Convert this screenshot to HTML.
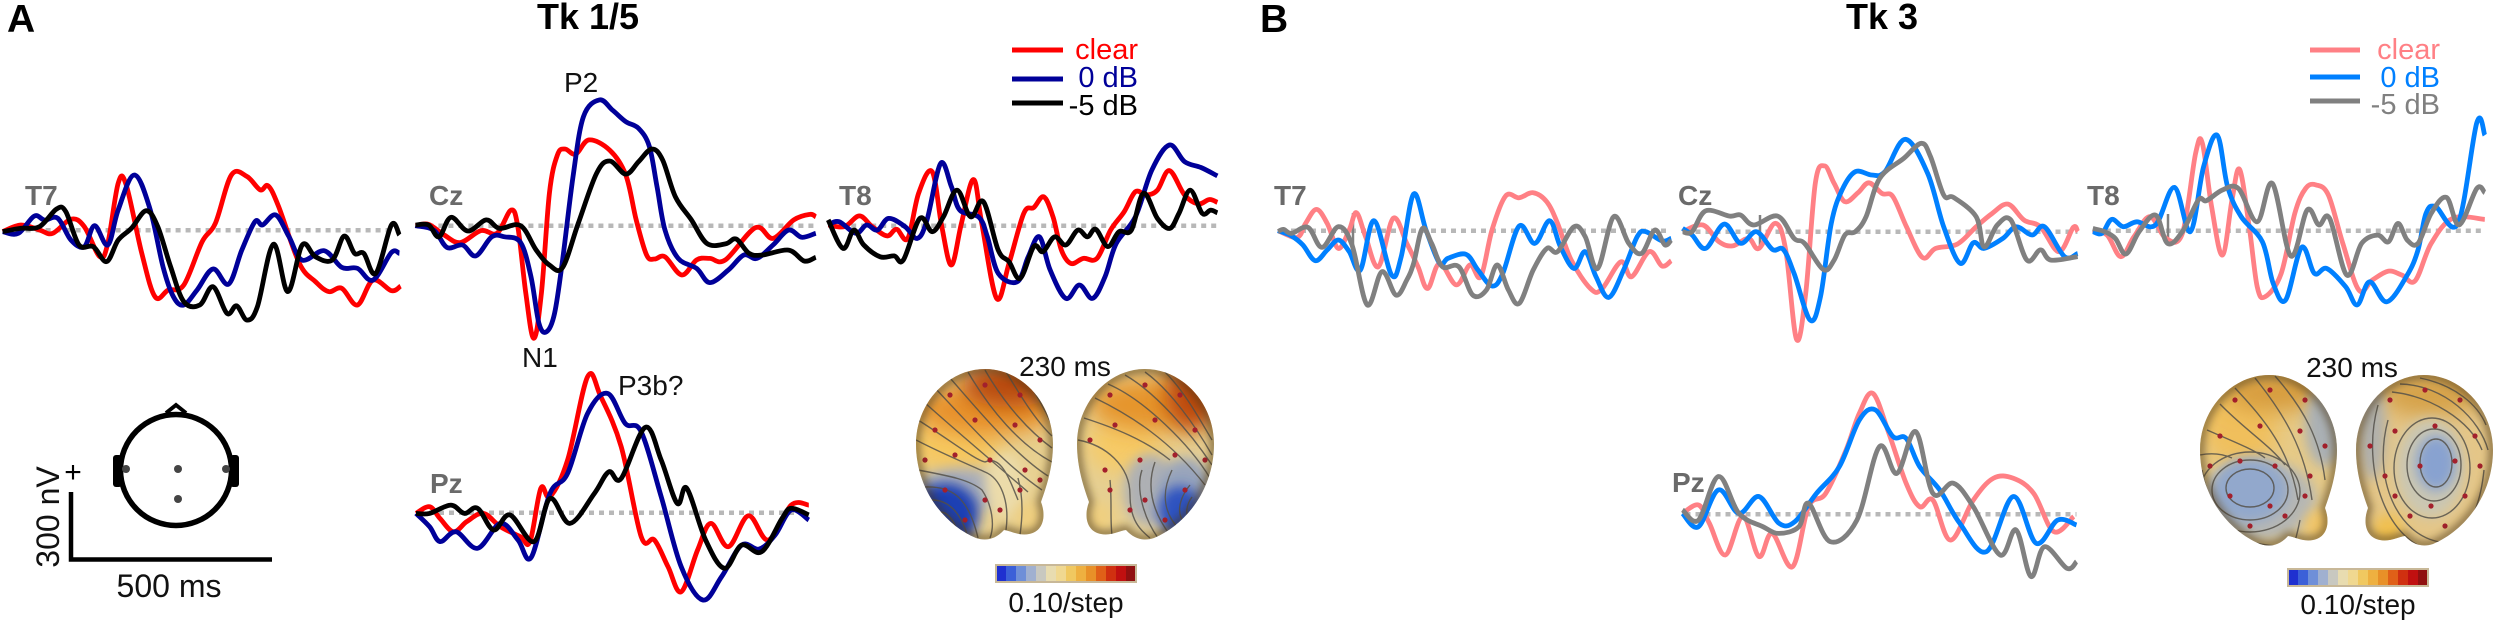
<!DOCTYPE html>
<html>
<head>
<meta charset="utf-8">
<title>ERP traces Tk 1/5 and Tk 3</title>
<style>
html,body{margin:0;padding:0;background:#fff;}
svg{display:block;font-family:"Liberation Sans",sans-serif;}
.lab{font-size:28px;font-weight:bold;fill:#6a6a6a;}
.ann{font-size:28px;fill:#111;}
.leg{font-size:29px;}
.ttl{font-size:36px;font-weight:bold;fill:#000;}
.pan{font-size:39px;font-weight:bold;fill:#000;}
.ctr{fill:none;stroke:#55524a;stroke-width:1.4;opacity:.85;}
.dot{fill:#a3202c;}
.shade{fill:none;stroke:#4a3415;stroke-width:9;opacity:.55;}
</style>
</head>
<body>
<svg id="chart" width="2500" height="627" viewBox="0 0 2500 627" xmlns="http://www.w3.org/2000/svg">
<defs>
<path id="brainShape" d="M985 369C1022 369 1053 403 1053 444C1053 468 1046 488 1041 502C1047 518 1042 532 1029 534C1019 536 1011 531 1004 530C995 540 985 541 976 538C945 525 916 490 916 444C916 403 948 369 985 369Z"/>
<clipPath id="clipAL"><use href="#brainShape"/></clipPath>
<clipPath id="clipAR"><use href="#brainShape" transform="translate(2130,0) scale(-1,1)"/></clipPath>
<clipPath id="clipBL"><use href="#brainShape" transform="translate(1284,6)"/></clipPath>
<clipPath id="clipBR"><use href="#brainShape" transform="translate(3409,6) scale(-1,1)"/></clipPath>
<filter id="soft" x="-50%" y="-50%" width="200%" height="200%"><feGaussianBlur stdDeviation="11"/></filter>
<filter id="softer" x="-50%" y="-50%" width="200%" height="200%"><feGaussianBlur stdDeviation="6"/></filter>
<filter id="shadeBlur" x="-20%" y="-20%" width="140%" height="140%"><feGaussianBlur stdDeviation="4"/></filter>
</defs>

<text class="pan" x="7" y="32">A</text>
<text class="pan" x="1260" y="32">B</text>
<text class="ttl" x="588" y="29" text-anchor="middle">Tk 1/5</text>
<text class="ttl" x="1882" y="29" text-anchor="middle">Tk 3</text>

<g>
<line x1="1012" x2="1063" y1="50" y2="50" stroke="#ff0000" stroke-width="5"/>
<line x1="1012" x2="1063" y1="79" y2="79" stroke="#000099" stroke-width="5"/>
<line x1="1012" x2="1063" y1="103" y2="103" stroke="#000" stroke-width="5"/>
<text class="leg" x="1138" y="59" text-anchor="end" fill="#ff0000">clear</text>
<text class="leg" x="1138" y="87" text-anchor="end" fill="#000099">0 dB</text>
<text class="leg" x="1138" y="115" text-anchor="end" fill="#000">-5 dB</text>
</g>
<g>
<line x1="2310" x2="2360" y1="50" y2="50" stroke="#ff8085" stroke-width="5"/>
<line x1="2310" x2="2360" y1="77" y2="77" stroke="#0080ff" stroke-width="5"/>
<line x1="2310" x2="2360" y1="101" y2="101" stroke="#808080" stroke-width="5"/>
<text class="leg" x="2440" y="59" text-anchor="end" fill="#ff8085">clear</text>
<text class="leg" x="2440" y="87" text-anchor="end" fill="#0080ff">0 dB</text>
<text class="leg" x="2440" y="114" text-anchor="end" fill="#808080">-5 dB</text>
</g>

<g id="baselines"></g>

<text class="lab" x="25" y="205">T7</text>
<text class="lab" x="429" y="205">Cz</text>
<text class="lab" x="839" y="205">T8</text>
<text class="lab" x="430" y="493">Pz</text>
<text class="lab" x="1274" y="205">T7</text>
<text class="lab" x="1678" y="205">Cz</text>
<text class="lab" x="2087" y="205">T8</text>
<text class="lab" x="1672" y="492">Pz</text>

<line x1="1353" x2="1353" y1="213" y2="245" stroke="#808080" stroke-width="2.5"/>
<line x1="1760" x2="1760" y1="215" y2="247" stroke="#808080" stroke-width="2.5"/>
<line x1="2168" x2="2168" y1="214" y2="245" stroke="#808080" stroke-width="2.5"/>

<g id="traces"></g>

<text class="ann" x="564" y="92">P2</text>
<text class="ann" x="522" y="367">N1</text>
<text class="ann" x="618" y="395">P3b?</text>

<g>
<path d="M166 413L176 405L186 413" fill="#fff" stroke="#000" stroke-width="4"/>
<circle cx="176" cy="470" r="55.5" fill="none" stroke="#000" stroke-width="5.5"/>
<rect x="113" y="455" width="9" height="32" rx="3" fill="#000"/>
<rect x="230" y="455" width="9" height="32" rx="3" fill="#000"/>
<circle cx="126" cy="469" r="4" fill="#444"/>
<circle cx="178" cy="469" r="4" fill="#444"/>
<circle cx="226" cy="469" r="4" fill="#444"/>
<circle cx="178" cy="499" r="4" fill="#444"/>
</g>
<g>
<path d="M71 492V559.500H272" fill="none" stroke="#000" stroke-width="4.500"/>
<text x="73" y="482" font-size="30" text-anchor="middle" fill="#000">+</text>
<text transform="translate(59,517) rotate(-90)" font-size="32" text-anchor="middle" fill="#111">300 nV</text>
<text x="169" y="597" font-size="32" text-anchor="middle" fill="#111">500 ms</text>
</g>

<!-- Topomap A left -->
<g>
<g clip-path="url(#clipAL)">
<rect x="900" y="360" width="170" height="190" fill="#e8d090"/>
<ellipse cx="955" cy="445" rx="45" ry="30" fill="#f6c860" filter="url(#soft)"/>
<ellipse cx="985" cy="410" rx="70" ry="26" fill="#e8922a" filter="url(#soft)"/>
<ellipse cx="1010" cy="385" rx="48" ry="22" fill="#b8480a" filter="url(#soft)"/>
<ellipse cx="960" cy="490" rx="45" ry="22" fill="#a8adba" filter="url(#softer)"/>
<ellipse cx="1005" cy="485" rx="20" ry="32" fill="#ecdcaa" filter="url(#softer)"/>
<ellipse cx="945" cy="515" rx="34" ry="32" fill="#1f40b4" filter="url(#softer)"/>
<ellipse cx="1030" cy="518" rx="14" ry="16" fill="#efcf80" filter="url(#softer)"/>
<g class="ctr">
<path d="M1025 378C1035 392 1045 410 1052 425"/><path d="M1005 370C1020 395 1035 420 1052 436"/><path d="M985 370C1005 405 1030 432 1052 448"/><path d="M968 372C990 410 1020 445 1052 462"/><path d="M950 378C980 412 1015 455 1048 476"/><path d="M935 388C965 420 1005 465 1042 490"/><path d="M924 402C955 430 985 455 1028 492"/><path d="M918 420C950 440 975 460 985 462C1000 455 1008 475 1018 500"/><path d="M916 440C945 455 970 465 985 472C1000 478 1010 500 1006 530"/><path d="M918 470C950 476 970 480 982 490C992 505 995 525 990 538"/><path d="M925 487C950 486 968 495 978 538"/><path d="M932 500C950 500 962 515 968 538"/><path d="M940 512C950 512 956 525 960 538"/><path d="M948 522C953 522 955 530 956 538"/><path d="M1018 478C1024 500 1022 520 1020 535"/>
</g>
<g class="dot"><circle cx="950" cy="395" r="2.600"/><circle cx="985" cy="385" r="2.600"/><circle cx="1020" cy="395" r="2.600"/><circle cx="935" cy="430" r="2.600"/><circle cx="975" cy="420" r="2.600"/><circle cx="1015" cy="425" r="2.600"/><circle cx="1040" cy="440" r="2.600"/><circle cx="925" cy="460" r="2.600"/><circle cx="955" cy="455" r="2.600"/><circle cx="990" cy="460" r="2.600"/><circle cx="1025" cy="470" r="2.600"/><circle cx="945" cy="490" r="2.600"/><circle cx="985" cy="500" r="2.600"/><circle cx="1020" cy="490" r="2.600"/><circle cx="965" cy="520" r="2.600"/><circle cx="1000" cy="510" r="2.600"/><circle cx="1040" cy="480" r="2.600"/></g>
<use href="#brainShape" class="shade" filter="url(#shadeBlur)"/>
</g>
</g>
<!-- Topomap A right -->
<g>
<g clip-path="url(#clipAR)">
<rect x="1060" y="360" width="170" height="190" fill="#e6cf92"/>
<ellipse cx="1125" cy="445" rx="38" ry="28" fill="#f6ca66" filter="url(#soft)"/>
<ellipse cx="1150" cy="405" rx="60" ry="26" fill="#e6942c" filter="url(#soft)"/>
<ellipse cx="1192" cy="395" rx="26" ry="36" fill="#bc4a0a" filter="url(#soft)"/>
<ellipse cx="1150" cy="490" rx="26" ry="36" fill="#aeb0b4" filter="url(#softer)"/>
<ellipse cx="1185" cy="488" rx="26" ry="30" fill="#98a4bc" filter="url(#softer)"/>
<ellipse cx="1180" cy="512" rx="22" ry="26" fill="#2f52c0" filter="url(#softer)"/>
<ellipse cx="1100" cy="518" rx="14" ry="16" fill="#efcf80" filter="url(#softer)"/>
<g class="ctr">
<path d="M1165 372C1185 392 1200 420 1212 440"/><path d="M1145 372C1170 390 1195 425 1212 455"/><path d="M1125 375C1155 392 1190 432 1212 465"/><path d="M1108 384C1145 400 1190 445 1210 478"/><path d="M1095 398C1130 415 1170 440 1205 485"/><path d="M1084 418C1115 428 1145 440 1170 460"/><path d="M1078 440C1105 445 1130 465 1130 495C1130 520 1140 530 1150 538"/><path d="M1142 470C1135 490 1145 520 1158 538"/><path d="M1155 462C1145 490 1155 515 1170 535"/><path d="M1172 470C1160 495 1165 515 1180 530"/><path d="M1190 485C1178 500 1176 515 1186 525"/><path d="M1192 497C1186 505 1185 515 1190 520"/><path d="M1110 480C1112 500 1110 520 1112 535"/>
</g>
<g class="dot"><circle cx="1110" cy="395" r="2.600"/><circle cx="1145" cy="385" r="2.600"/><circle cx="1180" cy="395" r="2.600"/><circle cx="1090" cy="440" r="2.600"/><circle cx="1115" cy="425" r="2.600"/><circle cx="1155" cy="420" r="2.600"/><circle cx="1195" cy="430" r="2.600"/><circle cx="1105" cy="470" r="2.600"/><circle cx="1140" cy="460" r="2.600"/><circle cx="1175" cy="455" r="2.600"/><circle cx="1205" cy="460" r="2.600"/><circle cx="1110" cy="490" r="2.600"/><circle cx="1145" cy="500" r="2.600"/><circle cx="1185" cy="490" r="2.600"/><circle cx="1130" cy="510" r="2.600"/><circle cx="1165" cy="520" r="2.600"/></g>
<use href="#brainShape" class="shade" filter="url(#shadeBlur)" transform="translate(2130,0) scale(-1,1)"/>
</g>
</g>
<!-- Topomap B left -->
<g>
<g clip-path="url(#clipBL)">
<rect x="2190" y="365" width="170" height="195" fill="#e6ca88"/>
<ellipse cx="2240" cy="425" rx="38" ry="42" fill="#f0bf5c" filter="url(#soft)"/>
<ellipse cx="2275" cy="392" rx="50" ry="20" fill="#d79c3c" filter="url(#soft)"/>
<ellipse cx="2325" cy="425" rx="20" ry="42" fill="#aab0b4" filter="url(#softer)"/>
<ellipse cx="2260" cy="500" rx="56" ry="40" fill="#b6b7b4" filter="url(#softer)"/>
<ellipse cx="2250" cy="490" rx="38" ry="32" fill="#92a8cc" filter="url(#softer)"/>
<ellipse cx="2320" cy="525" rx="15" ry="16" fill="#f0c568" filter="url(#softer)"/>
<g class="ctr">
<path d="M2275 376C2305 410 2320 440 2325 480"/><path d="M2255 378C2285 415 2305 450 2312 500"/><path d="M2235 388C2265 420 2290 450 2298 500"/><path d="M2220 404C2245 430 2270 445 2285 465"/><path d="M2207 430C2230 440 2255 450 2265 458"/><path d="M2200 455C2215 452 2225 455 2232 458"/><ellipse cx="2250" cy="492" rx="50" ry="40"/><ellipse cx="2250" cy="490" rx="38" ry="30"/><ellipse cx="2250" cy="488" rx="24" ry="19"/><path d="M2204 490C2215 530 2245 548 2290 546"/><path d="M2202 470C2212 525 2240 552 2275 552"/><path d="M2300 520C2298 530 2296 540 2292 550"/>
</g>
<g class="dot"><circle cx="2235" cy="400" r="2.600"/><circle cx="2270" cy="390" r="2.600"/><circle cx="2305" cy="400" r="2.600"/><circle cx="2220" cy="436" r="2.600"/><circle cx="2260" cy="426" r="2.600"/><circle cx="2300" cy="431" r="2.600"/><circle cx="2325" cy="446" r="2.600"/><circle cx="2210" cy="466" r="2.600"/><circle cx="2240" cy="461" r="2.600"/><circle cx="2275" cy="466" r="2.600"/><circle cx="2310" cy="476" r="2.600"/><circle cx="2230" cy="496" r="2.600"/><circle cx="2270" cy="506" r="2.600"/><circle cx="2305" cy="496" r="2.600"/><circle cx="2250" cy="526" r="2.600"/><circle cx="2285" cy="516" r="2.600"/></g>
<use href="#brainShape" class="shade" filter="url(#shadeBlur)" transform="translate(1284,6)"/>
</g>
</g>
<!-- Topomap B right -->
<g>
<g clip-path="url(#clipBR)">
<rect x="2345" y="365" width="160" height="195" fill="#e4c688"/>
<ellipse cx="2430" cy="395" rx="50" ry="22" fill="#d6a24a" filter="url(#soft)"/>
<ellipse cx="2372" cy="430" rx="14" ry="50" fill="#b0b0ac" filter="url(#softer)"/>
<ellipse cx="2430" cy="468" rx="34" ry="50" fill="#cbc7b2" filter="url(#softer)"/>
<ellipse cx="2436" cy="463" rx="20" ry="28" fill="#88a2d0" filter="url(#softer)"/>
<ellipse cx="2388" cy="530" rx="15" ry="16" fill="#f0c050" filter="url(#softer)"/>
<g class="ctr">
<ellipse cx="2436" cy="463" rx="16" ry="24"/><ellipse cx="2434" cy="465" rx="27" ry="36"/><ellipse cx="2432" cy="468" rx="38" ry="50"/><path d="M2388 420C2372 480 2398 535 2440 542C2465 542 2480 510 2484 470"/><path d="M2378 405C2360 470 2388 548 2440 552"/><path d="M2400 384C2445 385 2480 420 2488 450"/><path d="M2420 378C2455 385 2478 405 2486 425"/><path d="M2392 392C2430 396 2470 420 2482 450"/>
</g>
<g class="dot"><circle cx="2390" cy="400" r="2.600"/><circle cx="2425" cy="390" r="2.600"/><circle cx="2460" cy="400" r="2.600"/><circle cx="2370" cy="446" r="2.600"/><circle cx="2395" cy="431" r="2.600"/><circle cx="2435" cy="426" r="2.600"/><circle cx="2475" cy="436" r="2.600"/><circle cx="2385" cy="476" r="2.600"/><circle cx="2420" cy="466" r="2.600"/><circle cx="2455" cy="461" r="2.600"/><circle cx="2480" cy="466" r="2.600"/><circle cx="2395" cy="496" r="2.600"/><circle cx="2431" cy="506" r="2.600"/><circle cx="2465" cy="496" r="2.600"/><circle cx="2410" cy="516" r="2.600"/><circle cx="2445" cy="526" r="2.600"/></g>
<use href="#brainShape" class="shade" filter="url(#shadeBlur)" transform="translate(3409,6) scale(-1,1)"/>
</g>
</g>

<g id="cbarA"></g>
<g id="cbarB"></g>
<text class="ann" x="1065" y="376" text-anchor="middle">230 ms</text>
<text class="ann" x="2352" y="377" text-anchor="middle">230 ms</text>
<text class="ann" x="1066" y="612" text-anchor="middle">0.10/step</text>
<text class="ann" x="2358" y="614" text-anchor="middle">0.10/step</text>
</svg>

<script>
// Time in ms from trace start; amplitude in nV.
const aT7ClearT=[0,46,92,125,171,204,243,263,289,309,348,381,414,453,499,532,572,611,644,664,690,742,782,815,848,887,926,972,995];
const aT7ClearV=[-6,24,2,-14,50,17,-119,-59,212,204,-104,-299,-269,-246,-51,32,249,242,182,200,107,-149,-231,-276,-261,-336,-224,-272,-251];
const aT7ZeroT=[0,39,79,105,138,171,204,230,263,289,329,368,401,427,453,486,526,565,598,631,650,683,716,749,804,848,887,926,972,992];
const aT7ZeroV=[-6,-14,64,46,54,-44,-74,21,-66,92,249,99,-164,-299,-336,-269,-174,-242,-89,39,24,69,-29,-134,-92,-167,-171,-224,-100,-104];
const aT7MinusT=[0,46,92,135,158,191,227,260,289,322,359,388,420,453,493,526,561,585,611,637,677,713,749,782,824,854,880,903,933,972,992];
const aT7MinusV=[-6,9,16,96,84,-66,-74,-141,-44,9,88,16,-164,-321,-336,-254,-374,-340,-404,-344,-63,-276,-66,-119,-134,-26,-104,-104,-194,24,-21];

const aCzClearT=[0,33,72,112,164,204,239,256,276,296,315,335,355,374,401,434,486,526,552,578,598,624,666,703,736,775,850,894,946,986,1001];
const aCzClearV=[0,6,-42,-76,-22,-34,70,-4,-304,-507,-304,146,318,345,322,386,340,228,26,-132,-150,-140,-222,-154,-147,-154,-9,-57,26,51,40];
const aCzZeroT=[0,46,79,118,151,191,223,263,289,309,328,348,368,394,420,460,493,526,558,585,604,624,657,703,736,782,821,854,894,933,966,1001];
const aCzZeroV=[0,-20,-98,-87,-136,-50,-50,-76,-230,-440,-477,-394,-154,220,490,566,520,468,438,356,176,-20,-147,-192,-256,-200,-132,-147,-87,-20,-52,-34];
const aCzMinusT=[0,33,59,89,131,177,210,263,302,335,368,407,453,486,526,558,591,618,650,690,729,775,802,834,867,933,972,1001];
const aCzMinusV=[3,3,-50,38,-24,26,-12,0,-110,-177,-188,10,236,291,232,288,345,296,130,26,-80,-82,-60,-124,-132,-110,-159,-142];

const aT8ClearT=[0,41,78,110,147,171,199,226,260,284,308,333,363,384,421,452,489,514,539,562,583,607,638,672,706,740,768,795,823,853,891,925,953,973];
const aT8ClearV=[3,-4,44,-4,-46,-16,-57,146,243,-4,-177,10,208,10,-327,-170,56,82,130,40,-110,-170,-147,-147,-20,63,153,138,160,248,138,98,118,105];
const aT8ZeroT=[0,27,69,96,123,151,192,223,247,281,308,329,377,398,425,473,500,528,555,594,628,661,692,720,768,809,853,891,932,973];
const aT8ZeroV=[3,18,-34,3,-20,33,-4,-57,26,280,176,70,38,-50,-214,-252,-140,-50,-200,-327,-267,-327,-230,-80,40,250,363,288,262,224];
const aT8MinusT=[0,37,64,89,130,165,188,229,260,288,322,356,388,425,452,480,514,537,566,594,624,648,669,699,727,758,788,823,854,877,905,935,956,973];
const aT8MinusV=[26,-102,-20,-87,-140,-136,-154,33,-27,40,160,40,108,-110,-162,-237,-94,-117,-50,-87,-20,-50,-16,-94,-27,-20,146,33,-12,56,160,56,70,58];

const aPzClearT=[0,34,60,94,127,168,211,261,285,312,335,379,429,462,513,563,596,630,663,704,737,781,831,881,938,982];
const aPzClearV=[-3,27,-26,-86,-40,-3,-63,-108,-130,110,72,237,612,522,297,-108,-123,-243,-356,-168,-48,-153,-14,-123,34,34];
const aPzZeroT=[0,34,60,100,154,211,255,288,335,379,429,479,523,563,613,663,717,764,814,858,898,938,982];
const aPzZeroV=[-3,-63,-130,-86,-160,-48,-123,-201,87,177,447,537,402,364,72,-243,-393,-288,-146,-164,-100,12,-33];
const aPzMinusT=[0,34,87,121,154,194,235,295,335,385,446,482,513,573,613,653,677,724,771,814,864,915,938,982];
const aPzMinusV=[-3,-3,34,-3,20,-78,-10,-130,64,-48,87,184,154,384,237,42,110,-123,-250,-146,-176,-26,20,-10];

const bT7ClearT=[0,48,69,96,123,151,178,196,219,251,288,322,350,374,404,446,480,507,535,569,603,638,672,699,733,781,809,857,884,928,960,983];
const bT7ClearV=[0,-30,33,96,33,-80,3,81,-27,-162,56,-57,-162,-260,-147,-244,-154,-207,3,156,148,171,130,33,-132,-260,-264,-140,-207,-94,-159,-135];
const bT7ZeroT=[0,34,62,93,123,151,178,206,240,284,308,339,370,404,425,470,500,535,562,603,642,679,706,740,768,795,827,864,898,919,960,983];
const bT7ZeroV=[0,-24,-64,-135,-87,-42,-94,-177,45,-200,-117,165,3,-147,-124,-106,-177,-249,-192,21,-57,45,-72,-170,-94,-207,-300,-177,-27,-4,-46,-34];
const bT7MinusT=[0,14,34,75,110,151,185,223,260,295,322,339,361,384,411,452,487,521,548,576,603,638,672,699,740,768,799,839,877,909,942,967,983];
const bT7MinusV=[-4,6,-12,15,-75,18,-64,-334,-184,-290,-222,-147,10,-57,-162,-162,-290,-267,-154,-267,-327,-177,-80,-94,18,-27,-170,63,-57,-102,3,-64,-42];

const bCzClearT=[0,51,91,125,165,191,232,258,285,308,332,355,379,406,439,466,499,526,560,600,633,687,734,774,814,854,895,941,977,988];
const bCzClearV=[0,30,-45,-64,-30,-75,38,-82,-484,-278,218,296,218,135,176,220,172,158,22,-116,-75,-56,22,82,124,52,22,-90,20,0];
const bCzZeroT=[0,24,58,104,145,185,225,252,279,319,345,372,399,432,473,506,557,613,653,694,727,754,801,834,874,905,955,988];
const bCzZeroV=[15,-15,-75,34,-52,0,-80,-80,-188,-398,-292,38,188,270,255,270,416,262,22,-142,-50,-75,-30,22,-15,22,-112,-98];
const bCzMinusT=[0,24,58,118,145,178,238,279,305,352,379,406,432,459,493,553,597,620,653,678,734,754,787,821,861,895,921,988];
const bCzMinusV=[0,0,94,70,75,30,70,-30,-52,-170,-128,-15,0,68,240,330,398,338,165,154,68,-68,30,52,-128,-82,-128,-112];

const bT8ClearT=[0,36,70,103,143,183,224,257,274,297,324,348,367,391,411,431,471,505,532,558,589,625,665,699,739,773,806,846,900,980];
const bT8ClearV=[3,-20,-117,-27,63,-34,-12,348,393,108,-110,138,276,18,-252,-297,-192,78,190,206,160,-57,-267,-222,-182,-200,-225,-57,56,51];
const bT8ZeroT=[0,23,47,76,110,157,204,244,277,311,337,371,424,451,482,522,554,585,632,661,692,735,786,813,833,857,913,960,980];
const bT8ZeroV=[-4,-12,51,18,40,26,195,-4,288,430,198,63,-50,-237,-312,-75,-192,-170,-252,-334,-230,-320,-200,-87,78,108,33,486,430];
const bT8MinusT=[0,29,56,83,116,157,187,224,264,284,324,364,411,449,495,536,565,592,635,672,712,739,763,786,813,846,884,916,960,980];
const bT8MinusV=[10,-4,-34,-105,-4,70,-57,-4,138,135,183,190,40,213,-114,93,26,56,-200,-57,-20,-50,33,-42,-57,78,150,26,190,171];

const bPzClearT=[0,40,67,107,151,191,224,275,315,358,409,442,476,516,559,593,626,670,727,777,827,878,928,978];
const bPzClearV=[4,42,-40,-183,-10,-190,-86,-236,34,94,290,454,544,364,140,34,64,-116,64,162,162,94,-78,-10];
const bPzZeroT=[0,40,90,141,191,241,281,335,392,442,482,526,559,593,643,693,760,827,884,938,985];
const bPzZeroV=[4,-56,110,4,80,-40,-33,94,214,424,470,350,342,214,110,-40,-168,80,-130,-26,-48];
const bPzMinusT=[0,40,90,141,201,241,291,315,369,436,492,536,583,626,677,727,794,834,871,905,961,985];
const bPzMinusV=[20,-26,170,4,-56,-86,-56,50,-123,-26,304,184,372,94,140,34,-183,-70,-280,-146,-243,-213];

const colorbarColors=['#1f30d0','#3c60d8','#6f8fd8','#a0b0d0','#c8c8c0','#e8dcb0','#f0d890','#f0c860','#eeb040','#e89028','#e06018','#d03010','#c01010','#901010'];

const PX_PER_MS=0.4;
const PX_PER_NV=0.2222;
const colorsA={clear:'#ff0000',zero:'#000099',minus:'#000000'};
const colorsB={clear:'#ff8085',zero:'#0080ff',minus:'#808080'};
const panels=[
 {id:'a-t7',x0:2.6,base:230.3,len:397,c:colorsA,s:[['clear',aT7ClearT,aT7ClearV],['zero',aT7ZeroT,aT7ZeroV],['minus',aT7MinusT,aT7MinusV]]},
 {id:'a-cz',x0:415.4,base:225.7,len:400,c:colorsA,s:[['clear',aCzClearT,aCzClearV],['zero',aCzZeroT,aCzZeroV],['minus',aCzMinusT,aCzMinusV]]},
 {id:'a-t8',x0:828.2,base:225.7,len:390,c:colorsA,s:[['clear',aT8ClearT,aT8ClearV],['zero',aT8ZeroT,aT8ZeroV],['minus',aT8MinusT,aT8MinusV]]},
 {id:'a-pz',x0:416,base:512.7,len:393,c:colorsA,s:[['clear',aPzClearT,aPzClearV],['zero',aPzZeroT,aPzZeroV],['minus',aPzMinusT,aPzMinusV]]},
 {id:'b-t7',x0:1278,base:230.7,len:393,c:colorsB,s:[['clear',bT7ClearT,bT7ClearV],['zero',bT7ZeroT,bT7ZeroV],['minus',bT7MinusT,bT7MinusV]]},
 {id:'b-cz',x0:1682.5,base:231.7,len:395,c:colorsB,s:[['clear',bCzClearT,bCzClearV],['zero',bCzZeroT,bCzZeroV],['minus',bCzMinusT,bCzMinusV]]},
 {id:'b-t8',x0:2092.8,base:230.7,len:392,c:colorsB,s:[['clear',bT8ClearT,bT8ClearV],['zero',bT8ZeroT,bT8ZeroV],['minus',bT8MinusT,bT8MinusV]]},
 {id:'b-pz',x0:1682.5,base:514.3,len:394,c:colorsB,s:[['clear',bPzClearT,bPzClearV],['zero',bPzZeroT,bPzZeroV],['minus',bPzMinusT,bPzMinusV]]}
];
const NS='http://www.w3.org/2000/svg';
function xScale(p,t){return p.x0+t*PX_PER_MS;}
function yScale(p,v){return p.base-v*PX_PER_NV;}
function smoothPath(pts){
  let d='M'+pts[0][0].toFixed(1)+' '+pts[0][1].toFixed(1);
  for(let i=0;i<pts.length-1;i++){
    const a=pts[Math.max(i-1,0)],b=pts[i],c=pts[i+1],e=pts[Math.min(i+2,pts.length-1)];
    const k=0.17;
    d+='C'+(b[0]+(c[0]-a[0])*k).toFixed(1)+' '+(b[1]+(c[1]-a[1])*k).toFixed(1)+' '+(c[0]-(e[0]-b[0])*k).toFixed(1)+' '+(c[1]-(e[1]-b[1])*k).toFixed(1)+' '+c[0].toFixed(1)+' '+c[1].toFixed(1);
  }
  return d;
}
const baseG=document.getElementById('baselines');
const traceG=document.getElementById('traces');
panels.forEach(function(p){
  const bl=document.createElementNS(NS,'line');
  bl.setAttribute('x1',p.x0+3);
  bl.setAttribute('x2',p.x0+p.len);
  bl.setAttribute('y1',yScale(p,0));
  bl.setAttribute('y2',yScale(p,0));
  bl.setAttribute('stroke','#b8b8b8');
  bl.setAttribute('stroke-width','4.5');
  bl.setAttribute('stroke-dasharray','5 5');
  
  
  baseG.appendChild(bl);
  p.s.forEach(function(s){
    const ts=s[1],vs=s[2];
    const pts=ts.map(function(t,i){return [xScale(p,t),yScale(p,vs[i])];});
    const path=document.createElementNS(NS,'path');
    path.setAttribute('d',smoothPath(pts));
    path.setAttribute('fill','none');
    path.setAttribute('stroke',p.c[s[0]]);
    path.setAttribute('stroke-width','4.8');
    path.setAttribute('stroke-linejoin','round');
    path.setAttribute('stroke-linecap','butt');
    
    
    traceG.appendChild(path);
  });
});
function drawBar(id,x,y,w,h){
  const g=document.getElementById(id);
  const bw=w/colorbarColors.length;
  colorbarColors.forEach(function(col,i){
    const r=document.createElementNS(NS,'rect');
    r.setAttribute('x',x+i*bw);
    r.setAttribute('y',y);
    r.setAttribute('width',bw+0.5);
    r.setAttribute('height',h);
    r.setAttribute('fill',col);
    
    
    g.appendChild(r);
  });
  const f=document.createElementNS(NS,'rect');
  f.setAttribute('x',x);
  f.setAttribute('y',y);
  f.setAttribute('width',w);
  f.setAttribute('height',h);
  f.setAttribute('fill','none');
  f.setAttribute('stroke','#c8b898');
  f.setAttribute('stroke-width','2');
  
  
  g.appendChild(f);
}
drawBar('cbarA',996,565,140,17);
drawBar('cbarB',2288,569,140,17);
</script>
</body>
</html>
